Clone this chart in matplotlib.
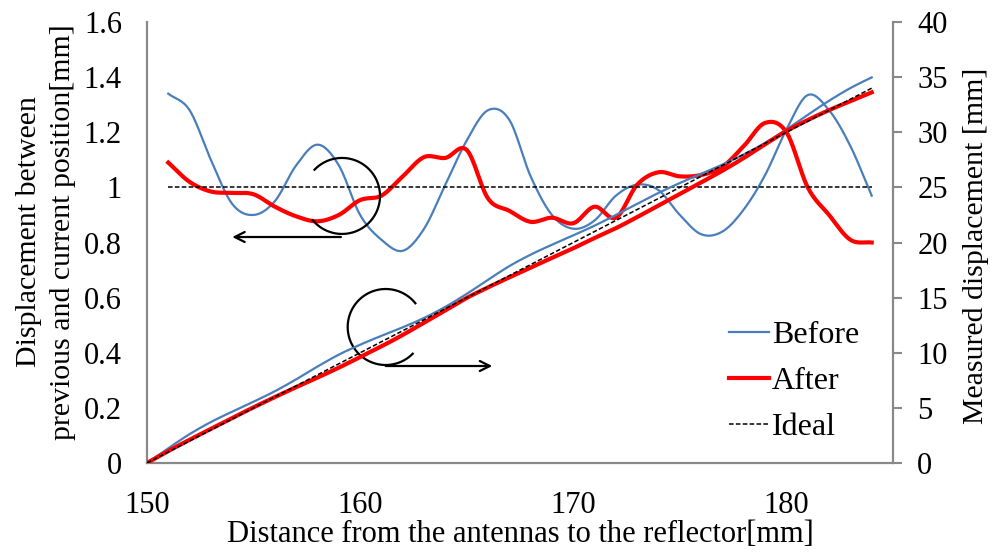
import numpy as np
import matplotlib
matplotlib.use("Agg")
import matplotlib.pyplot as plt
from matplotlib.lines import Line2D

plt.rcParams['font.family'] = ['Liberation Serif', 'DejaVu Serif']

# Step-wise displacement (left axis), positions 151..184 mm
step_x = list(range(151, 185))
before_step = [1.34, 1.28, 1.10, 0.94, 0.90, 0.95, 1.08, 1.155, 1.08, 0.90,
               0.81, 0.77, 0.85, 1.01, 1.17, 1.28, 1.245, 1.04, 0.90, 0.85,
               0.88, 0.97, 1.01, 0.99, 0.90, 0.83, 0.84, 0.92, 1.045, 1.21,
               1.335, 1.28, 1.15, 0.97]
after_step = [1.09, 1.02, 0.985, 0.98, 0.975, 0.93, 0.895, 0.877, 0.90, 0.954,
              0.97, 1.04, 1.11, 1.107, 1.136, 0.96, 0.915, 0.875, 0.89, 0.87,
              0.93, 0.89, 1.01, 1.055, 1.04, 1.045, 1.075, 1.15, 1.234, 1.20,
              1.00, 0.90, 0.81, 0.80]
ideal_step = [1.0] * len(step_x)

# Measured cumulative displacement (right axis), positions 150..184 mm
cum_x = list(range(150, 185))
before_cum = [0.0, 1.34, 2.62, 3.72, 4.66, 5.56, 6.51, 7.59, 8.75, 9.83, 10.73,
              11.54, 12.31, 13.16, 14.17, 15.34, 16.62, 17.86, 18.90, 19.80, 20.65,
              21.53, 22.50, 23.51, 24.50, 25.40, 26.23, 27.07, 27.99, 29.04, 30.25,
              31.58, 32.86, 34.01, 34.98]
after_cum = [0.0, 1.09, 2.11, 3.10, 4.08, 5.05, 5.98, 6.88, 7.75, 8.65, 9.61,
             10.58, 11.62, 12.73, 13.83, 14.97, 15.93, 16.84, 17.72, 18.61, 19.48,
             20.41, 21.30, 22.31, 23.36, 24.40, 25.45, 26.52, 27.67, 28.91, 30.11,
             31.11, 32.01, 32.82, 33.62]
ideal_cum = list(range(0, 35))

left_ticks = [0, 0.2, 0.4, 0.6, 0.8, 1.0, 1.2, 1.4, 1.6]
left_labels = ['0', '0.2', '0.4', '0.6', '0.8', '1', '1.2', '1.4', '1.6']
right_ticks = [0, 5, 10, 15, 20, 25, 30, 35, 40]
x_ticks = [150, 160, 170, 180]

BLUE = '#4A7EBB'
RED = '#FF0000'
GRAY = '#898989'
DASH = (0, (3, 1.5))


def smooth(x, y, n=16):
    """Catmull-Rom curve through the points, like a smoothed spreadsheet line."""
    x = np.asarray(x, float)
    y = np.asarray(y, float)
    px = np.concatenate([[2 * x[0] - x[1]], x, [2 * x[-1] - x[-2]]])
    py = np.concatenate([[2 * y[0] - y[1]], y, [2 * y[-1] - y[-2]]])
    t = np.linspace(0, 1, n, endpoint=False)
    xs, ys = [], []
    for i in range(1, len(px) - 2):
        for p, out in ((px, xs), (py, ys)):
            p0, p1, p2, p3 = p[i - 1], p[i], p[i + 1], p[i + 2]
            out.append(0.5 * (2 * p1 + (-p0 + p2) * t
                              + (2 * p0 - 5 * p1 + 4 * p2 - p3) * t ** 2
                              + (-p0 + 3 * p1 - 3 * p2 + p3) * t ** 3))
    xs.append([x[-1]])
    ys.append([y[-1]])
    return np.concatenate(xs), np.concatenate(ys)


fig = plt.figure(figsize=(9.95, 5.52), dpi=100)
ax = fig.add_axes([0.1477, 0.1612, 0.7498, 0.7989])
ax2 = ax.twinx()

# left axis: step displacement
ax.plot(*smooth(step_x, before_step), color=BLUE, lw=1.6, zorder=3)
ax.plot(*smooth(step_x, after_step), color=RED, lw=3.0, zorder=4)
ax.plot(step_x, ideal_step, color='black', lw=1.1, ls=DASH, zorder=5)

# right axis: cumulative displacement
ax2.plot(*smooth(cum_x, before_cum), color=BLUE, lw=1.6, zorder=3)
ax2.plot(*smooth(cum_x, after_cum), color=RED, lw=3.0, zorder=4)
ax2.plot(cum_x, ideal_cum, color='black', lw=1.1, ls=DASH, zorder=5)

ax.set_xlim(150, 185)
ax.set_ylim(0, 1.6)
ax2.set_ylim(0, 40)
ax.set_xticks(x_ticks)
ax.set_yticks(left_ticks)
ax.set_yticklabels(left_labels)
ax2.set_yticks(right_ticks)

for a in (ax, ax2):
    a.spines['top'].set_visible(False)
    a.patch.set_visible(False)
ax.spines['right'].set_visible(False)
ax2.spines['left'].set_visible(False)
ax2.spines['bottom'].set_visible(False)
for s in (ax.spines['left'], ax.spines['bottom'], ax2.spines['right']):
    s.set_color(GRAY)
    s.set_linewidth(1.6)

ax.tick_params(axis='both', length=0, labelsize=22)
ax.tick_params(axis='y', pad=18)
ax.tick_params(axis='x', pad=20)
ax2.tick_params(axis='y', direction='out', length=6.5, width=1.5, color=GRAY,
                labelsize=22, pad=11)

ax.set_xlabel('Distance from the antennas to the reflector[mm]', fontsize=22)
ax.xaxis.label.set_va('center')
ax.xaxis.set_label_coords(0.5, -0.162)
ax.set_ylabel('Displacement between\nprevious and current position[mm]',
              fontsize=21.5, linespacing=1.4)
ax.yaxis.label.set_va('center')
ax.yaxis.set_label_coords(-0.135, 0.524)
ax2.set_ylabel('Measured displacement [mm]', fontsize=21.5)
ax2.yaxis.label.set_va('center')
ax2.yaxis.set_label_coords(1.111, 0.492)

# circled-arrow markers pointing each curve group to its axis
px_x = 21.31   # pixels per mm on x
px_y = 275.6   # pixels per unit on left y
r_px = 38


def open_circle(cx, cy, a0, a1):
    t = np.radians(np.linspace(a0, a1, 200))
    ax.plot(cx + r_px / px_x * np.cos(t), cy + r_px / px_y * np.sin(t),
            color='black', lw=1.6, zorder=6, solid_capstyle='butt')


open_circle(159.15, 0.969, -142, 138)
ax.annotate('', xy=(154.0, 0.82), xytext=(159.1, 0.82),
            arrowprops=dict(arrowstyle='->', lw=1.6, color='black',
                            mutation_scale=18, shrinkA=0, shrinkB=0), zorder=6)
open_circle(161.2, 0.4935, 37, 317)
ax.annotate('', xy=(166.2, 0.352), xytext=(161.2, 0.352),
            arrowprops=dict(arrowstyle='->', lw=1.6, color='black',
                            mutation_scale=18, shrinkA=0, shrinkB=0), zorder=6)

handles = [Line2D([], [], color=BLUE, lw=1.6),
           Line2D([], [], color=RED, lw=3.0),
           Line2D([], [], color='black', lw=1.1, ls=DASH)]
ax2.legend(handles, ['Before', 'After', 'Ideal'], loc='upper left',
           bbox_to_anchor=(729 / 995, 1 - 321 / 552),
           bbox_transform=fig.transFigure, frameon=False, fontsize=23,
           handlelength=1.25, handletextpad=0.1, labelspacing=0.52,
           borderpad=0, borderaxespad=0)

fig.savefig('out.png', dpi=100)
